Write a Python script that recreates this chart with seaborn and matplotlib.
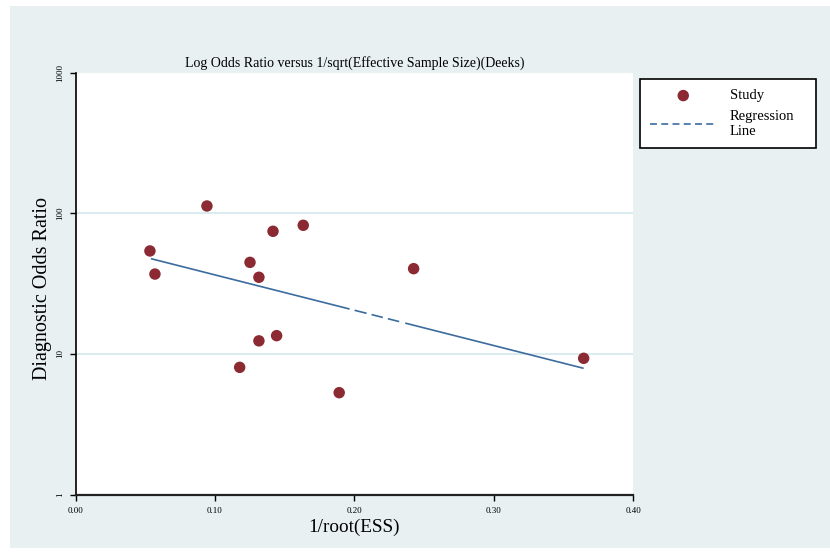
import numpy as np
import pandas as pd
import matplotlib
matplotlib.use("Agg")
import matplotlib.pyplot as plt
import seaborn as sns
from matplotlib.patches import Rectangle

# ---- data ----
inv_root_ess = [0.0534, 0.0570, 0.0943, 0.1178, 0.1252, 0.1316, 0.1316,
                0.1417, 0.1443, 0.1634, 0.1892, 0.2426, 0.3646]
dor = [54.0, 37.0, 112.7, 8.04, 44.8, 35.1, 12.4, 74.5, 13.5, 82.2, 5.31, 40.4, 9.32]
reg_x = [0.0541, 0.3646]
reg_y = [47.6, 7.91]
x_ticks = [0.0, 0.1, 0.2, 0.3, 0.4]
x_ticklabels = ["0.00", "0.10", "0.20", "0.30", "0.40"]
y_ticks = [1, 10, 100, 1000]
y_ticklabels = ["1", "10", "100", "1000"]
grid_y = [10, 100]

title = "Log Odds Ratio versus 1/sqrt(Effective Sample Size)(Deeks)"
xlabel = "1/root(ESS)"
ylabel = "Diagnostic Odds Ratio"

sns.set_theme(style="white")
plt.rcParams['font.family'] = ['Liberation Serif', 'DejaVu Serif']
plt.rcParams['lines.scale_dashes'] = False
plt.rcParams['text.color'] = 'black'
plt.rcParams['axes.labelcolor'] = 'black'
plt.rcParams['axes.titlecolor'] = 'black'
plt.rcParams['xtick.color'] = 'black'
plt.rcParams['ytick.color'] = 'black'
plt.rcParams['xtick.labelcolor'] = 'black'
plt.rcParams['ytick.labelcolor'] = 'black'

W, H = 830, 554
fig = plt.figure(figsize=(W / 100, H / 100), dpi=100)
fig.patch.set_facecolor("white")
fig.add_artist(Rectangle((10 / W, 6 / H), 1 - 10 / W, 542 / H,
                         transform=fig.transFigure, facecolor="#e8f0f2",
                         edgecolor="none", zorder=-10))

left, right, top, bottom = 75.5, 633, 72.6, 494.7
ax = fig.add_axes([left / W, (H - bottom) / H, (right - left) / W, (bottom - top) / H])
ax.set_facecolor("white")

df = pd.DataFrame({"x": inv_root_ess, "y": dor})
reg = pd.DataFrame({"x": reg_x, "y": reg_y})

for g in grid_y:
    ax.axhline(g, color="#d8eaf0", lw=1.3, zorder=0)

sns.scatterplot(data=df, x="x", y="y", ax=ax, color="#8c2a33", s=68,
                edgecolor="none", label="Study", zorder=3)
sns.lineplot(data=reg, x="x", y="y", ax=ax, color="#3c6c9e", lw=1.2,
             label="Regression\nLine", zorder=2)
# dash pattern in points (solid, short dashes, solid) as in reference
ax.lines[-1].set_linestyle((0, (147.6, 3.7, 8.9, 3.7, 8.4, 3.7, 8.4, 4.5, 200)))

ax.set_yscale("log")
ax.set_xlim(0, 0.4)
ax.set_ylim(1, 1000)
ax.set_xticks(x_ticks)
ax.set_xticklabels(x_ticklabels)
ax.set_yticks(y_ticks)
ax.set_yticklabels(y_ticklabels, rotation=90, va="center")
ax.yaxis.set_minor_locator(matplotlib.ticker.NullLocator())
ax.tick_params(axis="both", which="major", direction="out", length=4, width=1,
               color="black", labelsize=6.5, pad=4, left=True, bottom=True)
ax.tick_params(axis="x", pad=5)

for s in ["top", "right"]:
    ax.spines[s].set_visible(False)
ax.spines["left"].set_color("black")
ax.spines["left"].set_linewidth(1.2)
ax.spines["bottom"].set_color("#222222")
ax.spines["bottom"].set_linewidth(1.6)

ax.set_title(title, fontsize=10.0, pad=4.5)
ax.set_xlabel(xlabel, fontsize=13.8)
ax.set_ylabel(ylabel, fontsize=14.5)
ax.xaxis.set_label_coords(0.5, (bottom - 519) / (bottom - top))
ax.yaxis.set_label_coords((52 - left) / (right - left), (bottom - 289) / (bottom - top))

handles, labels = ax.get_legend_handles_labels()
ax.get_legend().remove()
leg = fig.legend(handles, labels, loc="upper left",
                 bbox_to_anchor=(639.5 / W, (H - 79) / H, (816 - 639.5) / W, 0.0),
                 mode="expand", fontsize=10.5, frameon=True, fancybox=False,
                 edgecolor="black", framealpha=1, handlelength=4.6,
                 handletextpad=0.9, borderpad=0.7, labelspacing=0.5,
                 borderaxespad=0)
leg.get_frame().set_linewidth(1.2)
for ln in leg.get_lines():
    ln.set_linestyle((0, (5, 3.1)))

fig.savefig("out.png", dpi=100)
